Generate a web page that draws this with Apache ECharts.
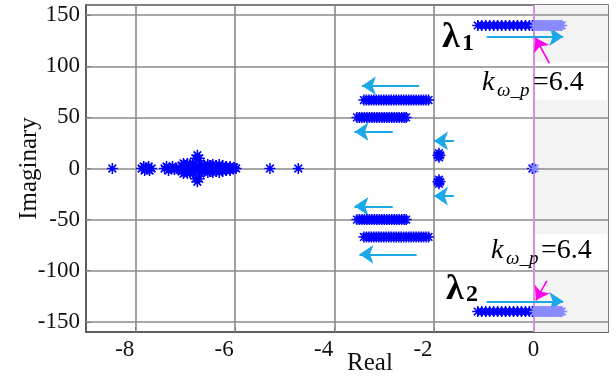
<!DOCTYPE html>
<html>
<head>
<meta charset="utf-8">
<script src="https://cdn.jsdelivr.net/npm/echarts@6/dist/echarts.min.js"></script>
<style>
  html, body { margin: 0; padding: 0; background: #fff; }
  #chart { width: 616px; height: 379px; }
</style>
</head>
<body>
<div id="chart"></div>
<script>
// tick values
const xTicks = [-8, -6, -4, -2, 0]
const yTicks = [-150, -100, -50, 0, 50, 100, 150]

// poles near the real axis [real, imag]
const realPoles = [
  [-8.47, 0],
  [-7.88, 0], [-7.84, 2], [-7.82, -2], [-7.78, 0], [-7.74, 2], [-7.72, -2], [-7.68, 0],
  [-7.42, 0], [-7.38, 2], [-7.34, -2], [-7.3, 0], [-7.26, 2], [-7.22, -1], [-7.18, 0],
  [-7.12, 0], [-7.08, 3], [-7.08, -3], [-7.04, 5], [-7.04, -5], [-7.0, 0], [-7.0, 3], [-7.0, -3],
  [-6.96, 5], [-6.96, -5], [-6.92, 0], [-6.9, 2], [-6.9, -2],
  [-6.8, 10], [-6.72, 10], [-6.8, -10], [-6.72, -10], [-6.76, 13], [-6.76, -13],
  [-6.85, 5], [-6.7, 5], [-6.85, -5], [-6.7, -5], [-6.78, 0], [-6.84, 0], [-6.74, 2], [-6.74, -2],
  [-6.65, 0], [-6.62, 3], [-6.62, -3], [-6.58, 0], [-6.55, 4], [-6.55, -4], [-6.5, 0], [-6.5, 3], [-6.5, -3],
  [-6.45, 4], [-6.45, -4], [-6.42, 0], [-6.38, 3], [-6.38, -3], [-6.35, 0], [-6.32, 4], [-6.32, -4],
  [-6.28, 0], [-6.25, 3], [-6.25, -3], [-6.2, 0], [-6.18, 2], [-6.18, -2], [-6.13, 0],
  [-6.1, 2], [-6.1, -2], [-6.06, 0], [-6.02, 1], [-5.98, 0],
  [-5.3, 0], [-4.73, 0],
  [-1.92, 13], [-1.88, 13], [-1.9, 15], [-1.9, 11],
  [-1.92, -13], [-1.88, -13], [-1.9, -15], [-1.9, -11],
  [-0.02, 0]
]
const rhpPoles = [[0.02, 0]]

// horizontal bands of poles (real parts), mirrored about the real axis
const band67Imag = 67
const band67X = [-3.41, -3.36, -3.31, -3.26, -3.21, -3.16, -3.11, -3.06, -3.01, -2.96, -2.91, -2.86, -2.81,
  -2.76, -2.71, -2.66, -2.61, -2.56, -2.51, -2.46, -2.41, -2.36, -2.31, -2.26, -2.21, -2.16, -2.11]
const band50Imag = 50
const band50X = [-3.55, -3.5, -3.45, -3.4, -3.35, -3.3, -3.25, -3.2, -3.15, -3.1, -3.05, -3.0, -2.95,
  -2.9, -2.85, -2.8, -2.75, -2.7, -2.65, -2.6, -2.56]
const lambdaImag = 140
const lambdaDarkX = [-1.12, -1.04, -0.96, -0.88, -0.8, -0.72, -0.64, -0.56, -0.48, -0.4, -0.32, -0.24, -0.16, -0.08, -0.02]
const lambdaLightX = [0.03, 0.06, 0.09, 0.12, 0.15, 0.18, 0.21, 0.24, 0.27, 0.3, 0.33, 0.36, 0.39, 0.42, 0.45, 0.48, 0.51, 0.54, 0.57]

// arrows [x1, y1, x2, y2]
const cyanArrows = [
  [-2.3, 81, -3.45, 81],
  [-2.83, 36, -3.6, 36],
  [-1.6, 27, -2.0, 27],
  [-1.6, -27, -2.0, -27],
  [-2.83, -37, -3.6, -37],
  [-2.35, -84, -3.5, -84],
  [-0.94, 129, 0.6, 129],
  [-0.94, -130, 0.6, -130]
]
const magentaArrows = [
  [0.32, 103, 0.04, 128],
  [0.27, -110, 0.05, -129]
]

const FONT = '"Liberation Serif", "Times New Roman", serif'
const STAR = 'path://M0 4.3H10V5.7H0Z M4.3 0H5.7V10H4.3Z M1.0 2.0L2.0 1.0L9.0 8.0L8.0 9.0Z M8.0 1.0L9.0 2.0L2.0 9.0L1.0 8.0Z'

function bandPoints(xs, imag) {
  const pts = []
  xs.forEach(x => { pts.push([x, imag]); pts.push([x, -imag]) })
  return pts
}

const darkPoints = realPoles
  .concat(bandPoints(band67X, band67Imag))
  .concat(bandPoints(band50X, band50Imag))
  .concat(bandPoints(lambdaDarkX, lambdaImag))
const lightPoints = rhpPoles.concat(bandPoints(lambdaLightX, lambdaImag))

function arrowData(list) {
  return list.map(a => [{ coord: [a[0], a[1]] }, { coord: [a[2], a[3]] }])
}

const chart = echarts.init(document.getElementById('chart'))
chart.setOption({
  animation: false,
  grid: {
    left: 86, right: 8, top: 5, bottom: 47, outerBoundsMode: 'none', containLabel: false,
    show: true, borderColor: '#555', borderWidth: 1.5, backgroundColor: 'transparent'
  },
  xAxis: {
    type: 'value', min: -9, max: 1.5,
    name: 'Real', nameLocation: 'middle', nameGap: 19, nameMoveOverlap: false,
    nameTextStyle: { fontFamily: FONT, fontSize: 25, color: '#111', padding: [0, 0, 0, 46] },
    axisLine: { onZero: false, lineStyle: { color: '#555', width: 1.5 } },
    axisTick: { inside: true, length: 5, customValues: xTicks, lineStyle: { color: '#555' } },
    axisLabel: {
      customValues: xTicks, margin: 6, color: '#111', fontFamily: FONT, fontSize: 23,
      formatter: v => v < 0 ? '{n|' + v + '}' : '{z|' + v + '}',
      rich: {
        n: { fontFamily: FONT, fontSize: 23, color: '#111', padding: [0, 22, 0, 0] },
        z: { fontFamily: FONT, fontSize: 23, color: '#111' }
      }
    },
    splitLine: { show: false }
  },
  yAxis: {
    type: 'value', min: -160, max: 160,
    name: 'Imaginary', nameLocation: 'middle', nameGap: 44, nameRotate: 90, nameMoveOverlap: false,
    nameTextStyle: { fontFamily: FONT, fontSize: 25, color: '#111' },
    axisLine: { onZero: false, lineStyle: { color: '#555', width: 1.5 } },
    axisTick: { show: true, inside: true, length: 5, customValues: yTicks, lineStyle: { color: '#555' } },
    axisLabel: { customValues: yTicks, margin: 6, color: '#111', fontFamily: FONT, fontSize: 23 },
    splitLine: { show: false }
  },
  graphic: [
    { type: 'rect', z: 3, shape: { x: 472, y: 62, width: 135, height: 38 }, style: { fill: '#fff' } },
    { type: 'rect', z: 3, shape: { x: 480, y: 234, width: 127, height: 38 }, style: { fill: '#fff' } },
    { type: 'text', z: 20, x: 442, y: 38, style: { text: 'λ', font: 'bold 36px ' + FONT, fill: '#000', verticalAlign: 'middle' } },
    { type: 'text', z: 20, x: 462, y: 44, style: { text: '1', font: 'bold 24px ' + FONT, fill: '#000', verticalAlign: 'middle' } },
    { type: 'text', z: 20, x: 446, y: 290, style: { text: 'λ', font: 'bold 36px ' + FONT, fill: '#000', verticalAlign: 'middle' } },
    { type: 'text', z: 20, x: 466, y: 295, style: { text: '2', font: 'bold 24px ' + FONT, fill: '#000', verticalAlign: 'middle' } },
    { type: 'text', z: 20, x: 482, y: 83, style: { text: 'k', font: 'italic 28px ' + FONT, fill: '#000', verticalAlign: 'middle' } },
    { type: 'text', z: 20, x: 497, y: 91, style: { text: 'ω_p', font: 'italic 19px ' + FONT, fill: '#000', verticalAlign: 'middle' } },
    { type: 'text', z: 20, x: 533, y: 83, style: { text: '=6.4', font: '28px ' + FONT, fill: '#000', verticalAlign: 'middle' } },
    { type: 'text', z: 20, x: 491, y: 251, style: { text: 'k', font: 'italic 28px ' + FONT, fill: '#000', verticalAlign: 'middle' } },
    { type: 'text', z: 20, x: 506, y: 259, style: { text: 'ω_p', font: 'italic 19px ' + FONT, fill: '#000', verticalAlign: 'middle' } },
    { type: 'text', z: 20, x: 541, y: 251, style: { text: '=6.4', font: '28px ' + FONT, fill: '#000', verticalAlign: 'middle' } }
  ],
  series: [
    {
      // shaded right half plane
      type: 'scatter', data: [], z: 0, silent: true,
      markArea: { silent: true, itemStyle: { color: '#f3f3f3' }, data: [[{ xAxis: 0 }, { xAxis: 1.5 }]] }
    },
    {
      // grid lines
      type: 'scatter', data: [], z: 1, silent: true,
      markLine: {
        silent: true, symbol: 'none', label: { show: false },
        lineStyle: { color: '#8a8a8a', width: 1.6, type: 'solid' },
        data: xTicks.map(v => ({ xAxis: v })).concat(yTicks.map(v => ({ yAxis: v })))
      }
    },
    {
      // imaginary axis
      type: 'scatter', data: [], z: 4, silent: true,
      markLine: {
        silent: true, symbol: 'none', label: { show: false },
        lineStyle: { color: '#e58ee5', width: 1.6, type: 'solid' },
        data: [{ xAxis: 0 }]
      }
    },
    {
      type: 'scatter', z: 6, symbol: STAR, symbolSize: 11,
      itemStyle: { color: '#0000ff', opacity: 1 }, data: darkPoints
    },
    {
      type: 'scatter', z: 6, symbol: STAR, symbolSize: 11,
      itemStyle: { color: '#8a8aff', opacity: 1 }, data: lightPoints
    },
    {
      type: 'scatter', data: [], z: 8, silent: true,
      markLine: {
        silent: true, symbol: ['none', 'arrow'], symbolSize: 14, label: { show: false },
        lineStyle: { color: '#1aa8e6', width: 2, type: 'solid' },
        data: arrowData(cyanArrows)
      }
    },
    {
      type: 'scatter', data: [], z: 9, silent: true,
      markLine: {
        silent: true, symbol: ['none', 'arrow'], symbolSize: 13, label: { show: false },
        lineStyle: { color: '#ff00ee', width: 1.6, type: 'solid' },
        data: arrowData(magentaArrows)
      }
    }
  ]
})
</script>
</body>
</html>
